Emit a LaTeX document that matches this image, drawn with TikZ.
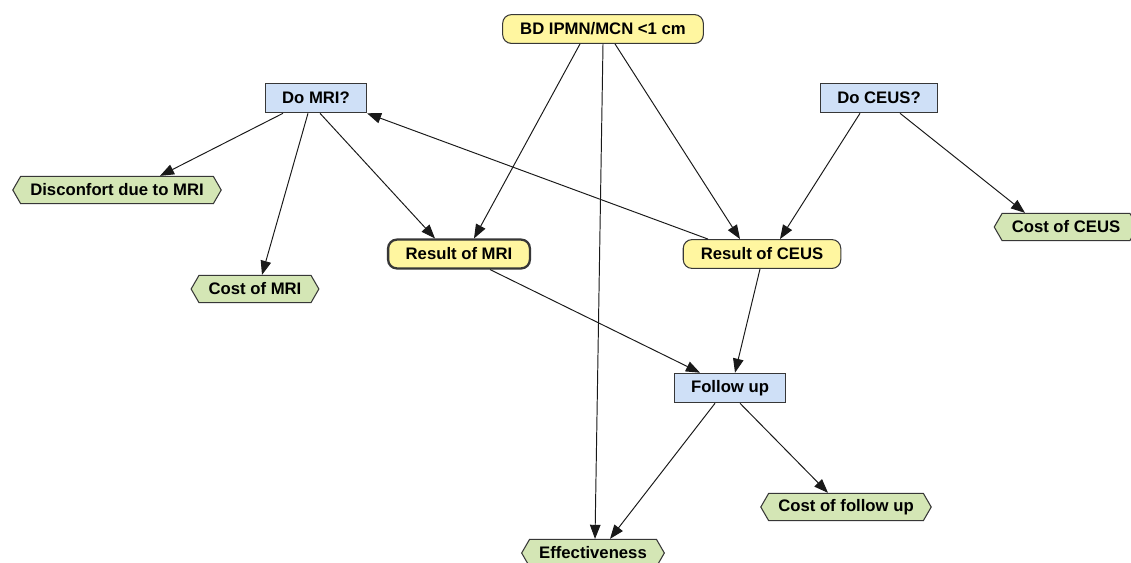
\documentclass[tikz,border=0pt]{standalone}
\usepackage{fontspec}
\setmainfont{Liberation Sans}
\usetikzlibrary{arrows.meta,shapes.symbols,calc}
\definecolor{chanceyellow}{RGB}{255,246,160}
\definecolor{decblue}{RGB}{207,224,247}
\definecolor{utilgreen}{RGB}{212,230,181}
\definecolor{boxline}{RGB}{55,55,55}

\begin{document}
\begin{tikzpicture}[x=0.02cm, y=-0.02cm,
  every node/.style={font=\fontsize{9.5}{11}\selectfont\bfseries, text=black},
  decision/.style={draw=boxline, fill=decblue, line width=0.6pt, rectangle, inner xsep=9.5pt, minimum height=16.8pt},
  chance/.style={draw=boxline, fill=chanceyellow, line width=0.6pt, rounded corners=5pt, inner xsep=10pt, minimum height=16.4pt},
  utility/.style={draw=boxline, fill=utilgreen, line width=0.6pt, signal, signal to=west and east, signal pointer angle=120, inner xsep=5.5pt, minimum height=15.5pt},
  arr/.style={-{Triangle[length=8pt,width=6pt]}, line width=0.55pt, draw=black!90}]
  \useasboundingbox (0,0) rectangle (1131,562);
  \fill[white] (0,0) rectangle (1131,562);
  % chance nodes
  \node[chance] (bd) at (603,29) {BD IPMN/MCN <1 cm};
  \node[chance, line width=1.3pt] (rmri) at (459,254) {Result of MRI};
  \node[chance] (rceus) at (762,254) {Result of CEUS};
  % decisions
  \node[decision] (domri) at (316,98) {Do MRI?};
  \node[decision] (doceus) at (879,98) {Do CEUS?};
  \node[decision] (fu) at (730,388) {Follow up};
  % utilities
  \node[utility] (disc) at (117,190) {Disconfort due to MRI};
  \node[utility] (cmri) at (255,289) {Cost of MRI};
  \node[utility] (cceus) at (1066,227) {Cost of CEUS};
  \node[utility] (cfu) at (846,507) {Cost of follow up};
  \node[utility] (eff) at (593,553) {Effectiveness};
  % arcs
  \draw[arr] ($(bd.south)+(-23,0)$) -- ($(rmri.north)+(15,0)$);
  \draw[arr] (bd.south) -- ($(eff.north)+(2,0)$);
  \draw[arr] ($(bd.south)+(12,0)$) -- ($(rceus.north)+(-22,0)$);
  \draw[arr] ($(domri.south)+(-33,0)$) -- ($(disc.north)+(43,0)$);
  \draw[arr] ($(domri.south)+(-8,0)$) -- ($(cmri.north)+(7,0)$);
  \draw[arr] ($(domri.south)+(4,0)$) -- ($(rmri.north)+(-24,0)$);
  \draw[arr] ($(doceus.south)+(-19,0)$) -- ($(rceus.north)+(18,0)$);
  \draw[arr] ($(doceus.south)+(21,0)$) -- ($(cceus.north)+(-41,0)$);
  \draw[arr] ($(rceus.north)+(-54,0)$) -- (domri.south east);
  \draw[arr] ($(rmri.south)+(31,0)$) -- ($(fu.north)+(-30,0)$);
  \draw[arr] ($(rceus.south)+(-2,0)$) -- ($(fu.north)+(5,0)$);
  \draw[arr] ($(fu.south)+(-15,0)$) -- ($(eff.north)+(17,0)$);
  \draw[arr] ($(fu.south)+(10,0)$) -- ($(cfu.north)+(-18,0)$);
\end{tikzpicture}
\end{document}
